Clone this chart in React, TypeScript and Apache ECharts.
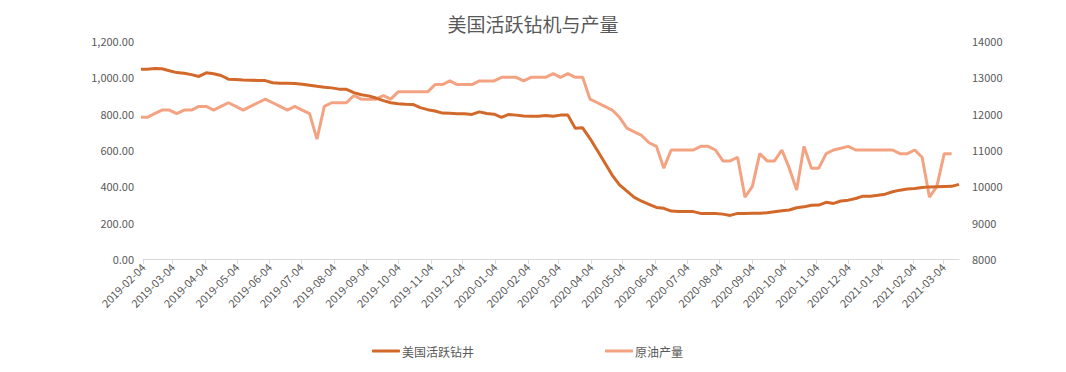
import React, { useEffect, useRef } from "react";
import * as echarts from "echarts";

const TITLE = "美国活跃钻机与产量";
const SERIES_RIGS = "美国活跃钻井";
const SERIES_OIL = "原油产量";

// Weekly dates (Fridays)
const dates: string[] = [
  "2019-02-01","2019-02-08","2019-02-15","2019-02-22",
  "2019-03-01","2019-03-08","2019-03-15","2019-03-22","2019-03-29",
  "2019-04-05","2019-04-12","2019-04-19","2019-04-26",
  "2019-05-03","2019-05-10","2019-05-17","2019-05-24","2019-05-31",
  "2019-06-07","2019-06-14","2019-06-21","2019-06-28",
  "2019-07-05","2019-07-12","2019-07-19","2019-07-26",
  "2019-08-02","2019-08-09","2019-08-16","2019-08-23","2019-08-30",
  "2019-09-06","2019-09-13","2019-09-20","2019-09-27",
  "2019-10-04","2019-10-11","2019-10-18","2019-10-25",
  "2019-11-01","2019-11-08","2019-11-15","2019-11-22","2019-11-29",
  "2019-12-06","2019-12-13","2019-12-20","2019-12-27",
  "2020-01-03","2020-01-10","2020-01-17","2020-01-24","2020-01-31",
  "2020-02-07","2020-02-14","2020-02-21","2020-02-28",
  "2020-03-06","2020-03-13","2020-03-20","2020-03-27",
  "2020-04-03","2020-04-10","2020-04-17","2020-04-24",
  "2020-05-01","2020-05-08","2020-05-15","2020-05-22","2020-05-29",
  "2020-06-05","2020-06-12","2020-06-19","2020-06-26",
  "2020-07-03","2020-07-10","2020-07-17","2020-07-24","2020-07-31",
  "2020-08-07","2020-08-14","2020-08-21","2020-08-28",
  "2020-09-04","2020-09-11","2020-09-18","2020-09-25",
  "2020-10-02","2020-10-09","2020-10-16","2020-10-23","2020-10-30",
  "2020-11-06","2020-11-13","2020-11-20","2020-11-27",
  "2020-12-04","2020-12-11","2020-12-18","2020-12-25",
  "2021-01-01","2021-01-08","2021-01-15","2021-01-22","2021-01-29",
  "2021-02-05","2021-02-12","2021-02-19","2021-02-26",
  "2021-03-05","2021-03-12","2021-03-19",
];

const rigs: number[] = [
  1045, 1045, 1049, 1047, 1036, 1026, 1022, 1015, 1005, 1025,
  1020, 1010, 990, 988, 985, 984, 983, 982, 970, 967,
  967, 966, 962, 957, 951, 946, 942, 935, 934, 916,
  904, 898, 886, 872, 860, 855, 852, 851, 833, 822,
  815, 803, 802, 800, 799, 796, 810, 801, 797, 780,
  796, 792, 787, 786, 786, 790, 786, 792, 792, 720,
  722, 663, 597, 530, 462, 408, 374, 339, 318, 301,
  284, 279, 264, 262, 262, 261, 251, 251, 251, 247,
  240, 251, 251, 252, 252, 255, 260, 265, 270, 282,
  287, 296, 297, 312, 306, 319, 324, 333, 346, 346,
  351, 357, 370, 379, 385, 388, 394, 397, 398, 399,
  400, 411,
];

const oil: number[] = [
  11900, 11900, 12000, 12100, 12100, 12000, 12100, 12100, 12200, 12200,
  12100, 12200, 12300, 12200, 12100, 12200, 12300, 12400, 12300, 12200,
  12100, 12200, 12100, 12000, 11300, 12200, 12300, 12300, 12300, 12500,
  12400, 12400, 12400, 12500, 12400, 12600, 12600, 12600, 12600, 12600,
  12800, 12800, 12900, 12800, 12800, 12800, 12900, 12900, 12900, 13000,
  13000, 13000, 12900, 13000, 13000, 13000, 13100, 13000, 13100, 13000,
  13000, 12400, 12300, 12200, 12100, 11900, 11600, 11500, 11400, 11200,
  11100, 10500, 11000, 11000, 11000, 11000, 11100, 11100, 11000, 10700,
  10700, 10800, 9700, 10000, 10900, 10700, 10700, 11000, 10500, 9900,
  11100, 10500, 10500, 10900, 11000, 11050, 11100, 11000, 11000, 11000,
  11000, 11000, 11000, 10900, 10900, 11000, 10800, 9700, 10000, 10900,
  10900,
];

const xTickLabels: string[] = [
  "2019-02-04","2019-03-04","2019-04-04","2019-05-04","2019-06-04","2019-07-04",
  "2019-08-04","2019-09-04","2019-10-04","2019-11-04","2019-12-04","2020-01-04",
  "2020-02-04","2020-03-04","2020-04-04","2020-05-04","2020-06-04","2020-07-04",
  "2020-08-04","2020-09-04","2020-10-04","2020-11-04","2020-12-04","2021-01-04",
  "2021-02-04","2021-03-04",
];

const X_MIN = "2019-02-04";
const X_MAX = "2021-03-19";

function ts(s: string): number {
  const [y, m, d] = s.split("-").map(Number);
  return Date.UTC(y, m - 1, d);
}
function pad(n: number) {
  return n < 10 ? "0" + n : "" + n;
}
function fmtDate(v: number): string {
  const d = new Date(v);
  return `${d.getUTCFullYear()}-${pad(d.getUTCMonth() + 1)}-${pad(d.getUTCDate())}`;
}

const TEXT = "#595959";
const FONT = "'Noto Sans CJK SC', 'Noto Sans', sans-serif";

export default function App() {
  const ref = useRef<HTMLDivElement>(null);
  useEffect(() => {
    if (!ref.current) return;
    const chart = echarts.init(ref.current, undefined, { renderer: "svg" });
    const tickValues = xTickLabels.map(ts);
    chart.setOption({
      animation: false,
      backgroundColor: "#ffffff",
      textStyle: { fontFamily: FONT, color: TEXT },
      title: {
        text: TITLE,
        left: "center",
        top: 9,
        textStyle: { fontSize: 19, fontWeight: "normal", color: TEXT, fontFamily: FONT },
      },
      grid: { left: 143, right: 107, top: 41, bottom: 113, containLabel: false },
      legend: {
        bottom: 10,
        left: 367,
        itemGap: 131,
        itemWidth: 28,
        itemHeight: 3,
        icon: "roundRect",
        textStyle: { fontSize: 12, color: TEXT, fontFamily: FONT, padding: [0, 0, 0, -3] },
        data: [SERIES_RIGS, SERIES_OIL],
      },
      xAxis: {
        type: "value",
        min: ts(X_MIN),
        max: ts(X_MAX),
        splitLine: { show: false },
        axisLine: { show: true, lineStyle: { color: "#d9d9d9", width: 1 } },
        axisTick: {
          show: true,
          customValues: tickValues,
          length: 5,
          lineStyle: { color: "#d9d9d9" },
        },
        axisLabel: {
          customValues: tickValues,
          formatter: (v: number) => fmtDate(v),
          rotate: 45,
          fontSize: 11,
          color: TEXT,
          margin: 6,
          fontFamily: FONT,
        },
      },
      yAxis: [
        {
          type: "value",
          min: 0,
          max: 1200,
          interval: 200,
          splitLine: { show: false },
          axisLine: { show: false },
          axisTick: { show: false },
          axisLabel: {
            fontSize: 11,
            color: TEXT,
            margin: 9,
            fontFamily: FONT,
            formatter: (v: number) =>
              v.toLocaleString("en-US", { minimumFractionDigits: 2, maximumFractionDigits: 2 }),
          },
        },
        {
          type: "value",
          min: 8000,
          max: 14000,
          interval: 1000,
          position: "right",
          splitLine: { show: false },
          axisLine: { show: false },
          axisTick: { show: false },
          axisLabel: {
            fontSize: 11,
            color: TEXT,
            margin: 13,
            fontFamily: FONT,
            formatter: (v: number) => String(v),
          },
        },
      ],
      series: [
        {
          name: SERIES_RIGS,
          type: "line",
          yAxisIndex: 0,
          symbol: "none",
          clip: true,
          color: "#D2692A",
          lineStyle: { width: 3, color: "#D2692A" },
          data: rigs.map((v, i) => [ts(dates[i]), v]),
          z: 3,
        },
        {
          name: SERIES_OIL,
          type: "line",
          yAxisIndex: 1,
          symbol: "none",
          clip: true,
          color: "#F3A382",
          lineStyle: { width: 3, color: "#F3A382" },
          data: oil.map((v, i) => [ts(dates[i]), v]),
          z: 2,
        },
      ],
    });
    return () => chart.dispose();
  }, []);
  return (
    <div
      ref={ref}
      style={{ position: "fixed", left: 0, top: 0, width: 1066, height: 372, background: "#fff" }}
    />
  );
}
